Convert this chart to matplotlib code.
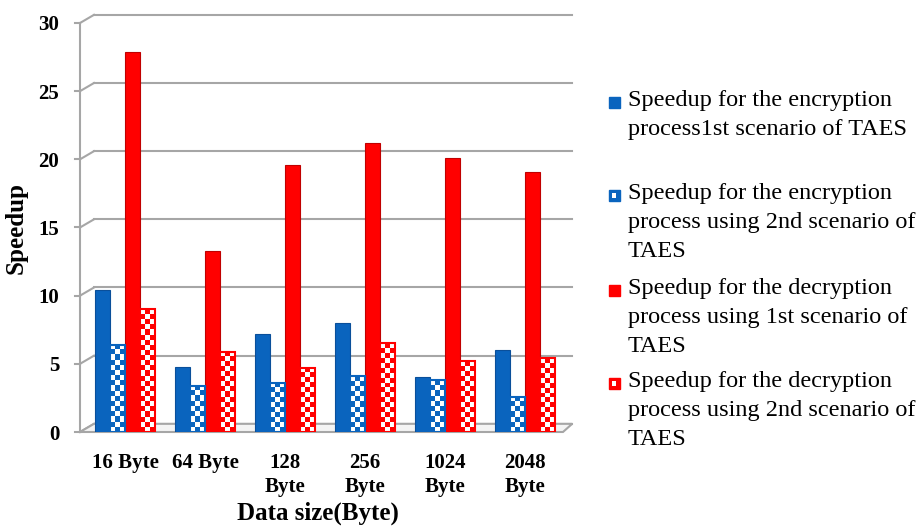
import numpy as np
import matplotlib
matplotlib.use("Agg")
import matplotlib.pyplot as plt
from matplotlib.colors import ListedColormap
from matplotlib.patches import Rectangle, Polygon

plt.rcParams["font.family"] = ["Liberation Serif", "DejaVu Serif"]

# data
sizes = ["16 Byte", "64 Byte", "128\nByte", "256\nByte", "1024\nByte", "2048\nByte"]
enc_1st = [10.4, 4.8, 7.2, 8.0, 4.0, 6.0]
enc_2nd = [6.4, 3.4, 3.6, 4.1, 3.8, 2.6]
dec_1st = [27.9, 13.3, 19.6, 21.2, 20.1, 19.1]
dec_2nd = [9.0, 5.9, 4.7, 6.5, 5.2, 5.4]
labels = [
    "Speedup for the encryption\nprocess1st scenario of TAES",
    "Speedup for the encryption\nprocess using 2nd scenario of\nTAES",
    "Speedup for the decryption\nprocess using 1st scenario of\nTAES",
    "Speedup for the decryption\nprocess using 2nd scenario of\nTAES",
]
yticks = [0, 5, 10, 15, 20, 25, 30]

blue = "#0a64be"
red = "#ff0000"

fig = plt.figure(figsize=(9.24, 5.27), dpi=100)
ax = fig.add_axes([80 / 924, 95 / 527, 483 / 924, 409 / 527])
ax.set_xlim(-0.5625, 5.475)
ax.set_ylim(0, 30)

# back wall gridlines with a little perspective step
grid_c = "#a6a6a6"
dx = 14 / 483
dy = 0.6
tr = ax.get_yaxis_transform()
for v in yticks:
    ax.plot([0, dx], [v, v + dy], color=grid_c, lw=1.5, transform=tr, clip_on=False, zorder=1)
    ax.plot([dx, 1.019], [v + dy, v + dy], color=grid_c, lw=1.5, transform=tr, clip_on=False, zorder=1)
    ax.plot([-0.01, 0], [v, v], color=grid_c, lw=1.5, transform=tr, clip_on=False, zorder=1)

# floor
floor = Polygon([[0, 0], [dx, dy], [1.019, dy], [1.0, 0]], closed=True, transform=tr,
                facecolor="#f4f4f4", edgecolor=grid_c, lw=1.5, clip_on=False, zorder=1)
ax.add_patch(floor)
ax.plot([0, 0], [0, 30], color=grid_c, lw=1.5, transform=tr, clip_on=False, zorder=1)

x = np.arange(len(sizes))
w = 0.1875
offsets = [-1.5 * w, -0.5 * w, 0.5 * w, 1.5 * w]


def checker(xc, h, col):
    # checkerboard fill for the 2nd-scenario bars
    ncols = 3
    nrows = max(1, int(round(h * 13.6 / 5.0)))
    board = (np.indices((nrows, ncols)).sum(axis=0) % 2)
    cmap = ListedColormap(["white", col])
    ax.imshow(board, extent=[xc - w / 2, xc + w / 2, 0, h], cmap=cmap,
              aspect="auto", interpolation="nearest", zorder=3)
    ax.add_patch(Rectangle((xc - w / 2, 0), w, h, fill=False, edgecolor=col, lw=1.5, zorder=4))


ax.bar(x + offsets[0], enc_1st, w, color=blue, edgecolor="#0a4f9a", lw=0.8, zorder=3)
ax.bar(x + offsets[2], dec_1st, w, color=red, edgecolor="#c00000", lw=0.8, zorder=3)
for i in range(len(sizes)):
    checker(x[i] + offsets[1], enc_2nd[i], blue)
    checker(x[i] + offsets[3], dec_2nd[i], red)

ax.set_xlim(-0.5625, 5.475)
ax.set_ylim(0, 30)
for s in ax.spines.values():
    s.set_visible(False)
ax.set_yticks(yticks)
ax.set_yticklabels([str(v) for v in yticks], fontsize=15, fontweight="bold")
ax.tick_params(axis="y", length=0, pad=15)
ax.set_xticks(x)
ax.set_xticklabels(sizes, fontsize=15, fontweight="bold", linespacing=1.3, va="top")
ax.tick_params(axis="x", length=0, pad=15)
ax.set_ylabel("Speedup", fontsize=18, fontweight="bold", labelpad=8)
fig.text(318 / 924, 1 - 513 / 527, "Data size(Byte)", fontsize=18, fontweight="bold",
         ha="center", va="center")

# legend drawn beside the plot
leg_y = [102, 195, 290, 383]
leg_cols = [blue, blue, red, red]
for i, lab in enumerate(labels):
    yy = 1 - leg_y[i] / 527
    fig.text(628 / 924, yy + 12 / 527, lab, fontsize=17.5, va="top", ha="left", linespacing=1.5)
    sq = Rectangle((609 / 924, yy - 6 / 527), 11 / 924, 11 / 527, transform=fig.transFigure,
                   facecolor=leg_cols[i], edgecolor=leg_cols[i], lw=1)
    fig.patches.append(sq)
    if i in (1, 3):
        fig.patches.append(Rectangle((612 / 924, yy - 3 / 527), 4 / 924, 5 / 527,
                                     transform=fig.transFigure, facecolor="white", lw=0))

fig.savefig("out.png", dpi=100)
